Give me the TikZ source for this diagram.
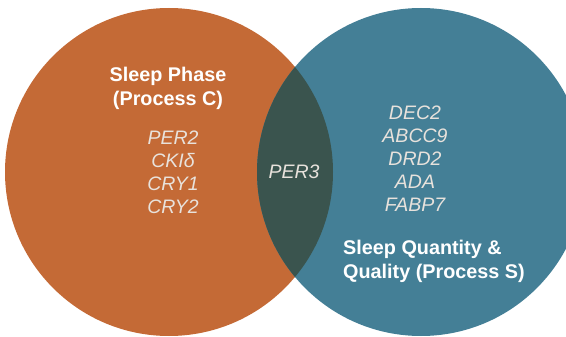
\documentclass[tikz,border=0pt]{standalone}
\usepackage{fontspec}
\setmainfont{Liberation Sans}
\definecolor{orangeC}{HTML}{C46A36}
\definecolor{blueS}{HTML}{447F96}
\definecolor{darkO}{HTML}{3A544E}
\definecolor{geneC}{HTML}{E8E2DC}
\begin{document}
\begin{tikzpicture}[x=1pt,y=-1pt,
  title/.style={text=white,font=\fontsize{19.8}{24}\selectfont\bfseries,inner sep=0pt},
  gene/.style={text=geneC,font=\fontsize{19.5}{23}\selectfont\itshape,inner sep=0pt}]
\useasboundingbox (0,0) rectangle (566,337);
\fill[orangeC] (169,172) circle (164);
\fill[blueS] (421,172) circle (164);
\begin{scope}
\clip (169,172) circle (164);
\fill[darkO] (421,172) circle (164);
\end{scope}
\node[title,align=center] (tc) at (168,88) {Sleep Phase\\(Process C)};
\node[gene,align=center] (gl) at (173,172) {PER2\\CKIδ\\CRY1\\CRY2};
\node[gene] (gm) at (294,172) {PER3};
\node[gene,align=center] (gr) at (415,159) {DEC2\\ABCC9\\DRD2\\ADA\\FABP7};
\node[title,align=left,anchor=west] (ts) at (343,261) {Sleep Quantity \&\\Quality (Process S)};
\end{tikzpicture}
\end{document}
